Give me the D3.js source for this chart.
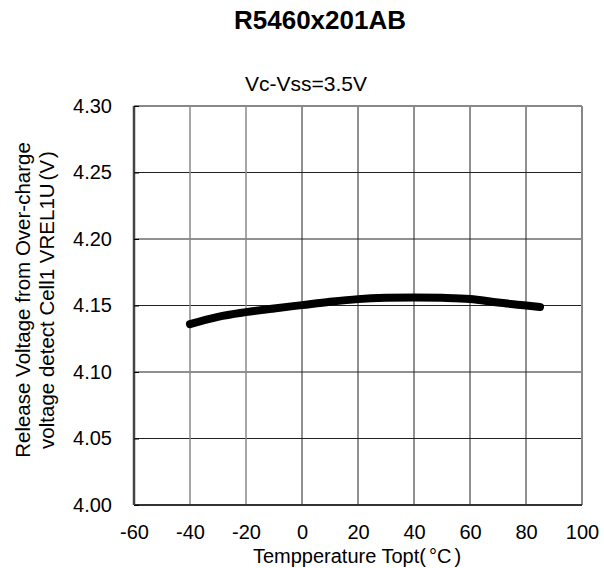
<!DOCTYPE html>
<html>
<head>
<meta charset="utf-8">
<script src="https://cdn.jsdelivr.net/npm/d3@7"></script>
<style>
  html, body { margin: 0; padding: 0; background: #fff; }
  svg text { font-family: Arial, "Liberation Sans", sans-serif; fill: #000; }
</style>
</head>
<body>
<svg id="chart" width="604" height="568"></svg>
<script>
// data
const temps = [-40, -30, -20, -10, 0, 10, 20, 30, 40, 50, 60, 70, 80, 85];
const vrel = [4.136, 4.1415, 4.145, 4.1478, 4.1503, 4.1528, 4.1548, 4.1558, 4.1561, 4.1558, 4.1549, 4.1522, 4.1500, 4.1488];
const xTicks = [-60, -40, -20, 0, 20, 40, 60, 80, 100];
const yTicks = [4.00, 4.05, 4.10, 4.15, 4.20, 4.25, 4.30];

(function() {
const svg = d3.select('#chart');
const plotLeft = 134, plotRight = 582, plotTop = 106, plotBottom = 505;

const x = d3.scaleLinear().domain([-60, 100]).range([plotLeft, plotRight]);
const y = d3.scaleLinear().domain([4.00, 4.30]).range([plotBottom, plotTop]);

// grid
svg.append('g')
  .selectAll('line')
  .data(yTicks.slice(1, -1))
  .join('line')
  .attr('x1', plotLeft).attr('x2', plotRight)
  .attr('y1', d => y(d)).attr('y2', d => y(d))
  .attr('stroke', '#222').attr('stroke-width', 1);

svg.append('g')
  .selectAll('line')
  .data(xTicks.slice(1, -1))
  .join('line')
  .attr('x1', d => x(d)).attr('x2', d => x(d))
  .attr('y1', plotTop).attr('y2', plotBottom)
  .attr('stroke', d => d < 0 ? '#888' : '#222')
  .attr('stroke-width', d => d < 0 ? 1.5 : 1);

// frame
svg.append('line').attr('x1', plotLeft).attr('x2', plotRight).attr('y1', plotTop).attr('y2', plotTop)
  .attr('stroke', '#888').attr('stroke-width', 2);
svg.append('line').attr('x1', plotRight).attr('x2', plotRight).attr('y1', plotTop).attr('y2', plotBottom)
  .attr('stroke', '#888').attr('stroke-width', 2);
svg.append('line').attr('x1', plotLeft).attr('x2', plotRight).attr('y1', plotBottom).attr('y2', plotBottom)
  .attr('stroke', '#333').attr('stroke-width', 2);
svg.append('line').attr('x1', plotLeft).attr('x2', plotLeft).attr('y1', plotTop).attr('y2', plotBottom)
  .attr('stroke', '#444').attr('stroke-width', 2.5);

// axes (labels only, small inner ticks)
const yAxis = svg.append('g')
  .attr('transform', `translate(${plotLeft},0)`)
  .call(d3.axisLeft(y).tickValues(yTicks).tickFormat(d3.format('.2f')).tickSize(-5).tickPadding(22));
yAxis.select('.domain').remove();
yAxis.selectAll('.tick line').attr('stroke', '#000');
yAxis.selectAll('.tick text').style('font-size', '20px');

const xAxis = svg.append('g')
  .attr('transform', `translate(0,${plotBottom})`)
  .call(d3.axisBottom(x).tickValues(xTicks).tickFormat(d => String(d)).tickSize(0).tickPadding(20));
xAxis.select('.domain').remove();
xAxis.selectAll('.tick text').style('font-size', '20px');

// curve
const line = d3.line()
  .x((d, i) => x(temps[i]))
  .y(d => y(d))
  .curve(d3.curveMonotoneX);

svg.append('path')
  .datum(vrel)
  .attr('d', line)
  .attr('fill', 'none')
  .attr('stroke', '#000')
  .attr('stroke-width', 8)
  .attr('stroke-linecap', 'round')
  .attr('stroke-linejoin', 'round');

// titles
svg.append('text').attr('x', 320).attr('y', 29).attr('text-anchor', 'middle')
  .style('font-size', '26px').style('font-weight', 'bold').text('R5460x201AB');
svg.append('text').attr('x', 306).attr('y', 91).attr('text-anchor', 'middle')
  .style('font-size', '21px').text('Vc-Vss=3.5V');

const xl = svg.append('text').attr('x', 357).attr('y', 563).attr('text-anchor', 'middle')
  .style('font-size', '20px');
xl.append('tspan').text('Tempperature Topt(');
xl.append('tspan').attr('dx', 3).text('°C');
xl.append('tspan').attr('dx', 3).text(')');

const yl = svg.append('text').attr('transform', `translate(30,300) rotate(-90)`)
  .attr('text-anchor', 'middle').style('font-size', '20.5px');
yl.append('tspan').attr('x', 0).attr('dy', 0).text('Release Voltage from Over-charge');
const yl2 = yl.append('tspan').attr('x', 0).attr('dy', 24);
yl2.append('tspan').text('voltage detect Cell1 VREL1U');
yl2.append('tspan').attr('dx', 3).text('(V');
yl2.append('tspan').attr('dx', 2).text(')');
})();
</script>
</body>
</html>
